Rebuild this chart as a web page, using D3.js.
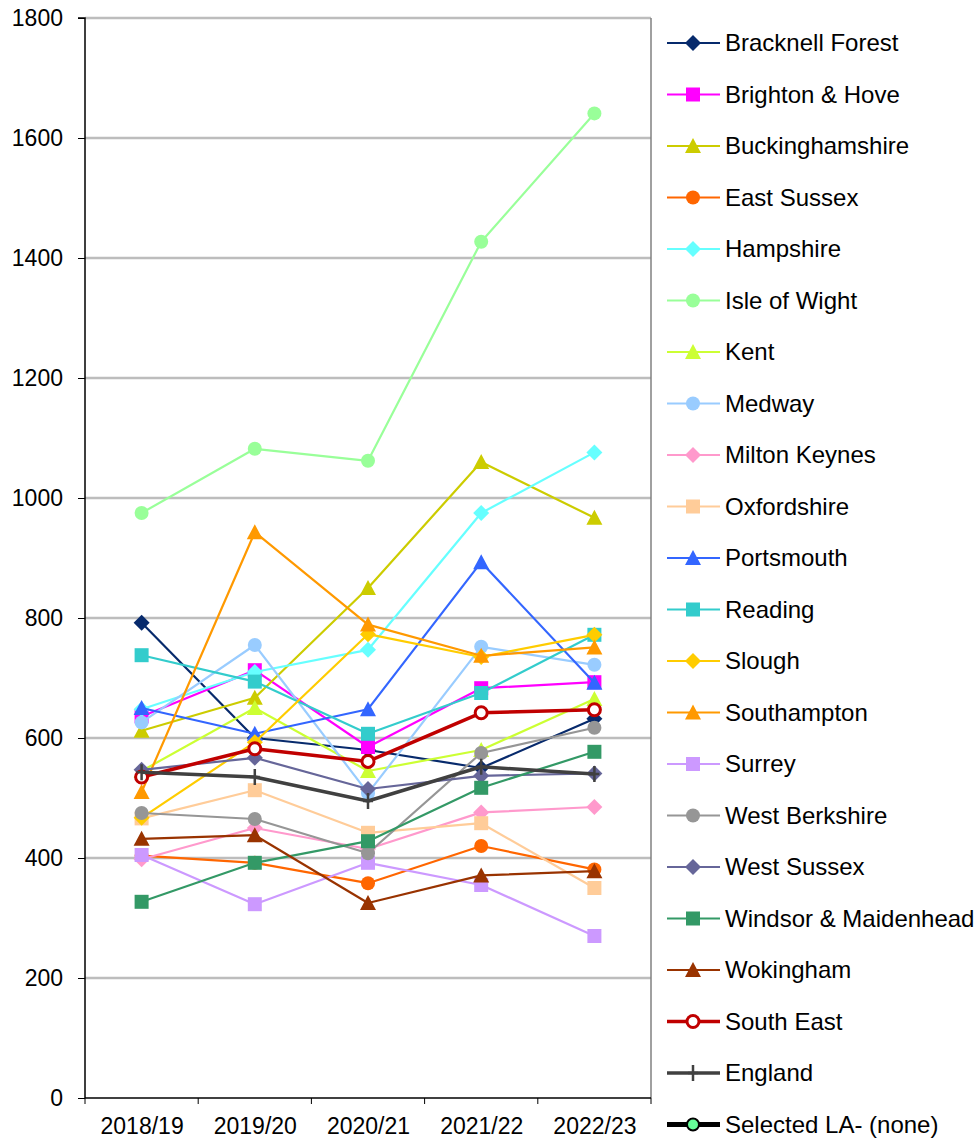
<!DOCTYPE html>
<html>
<head>
<meta charset="utf-8">
<script src="https://cdn.jsdelivr.net/npm/d3@7"></script>
<style>
  body { margin: 0; background: #fff; }
  svg { display: block; font-family: "Liberation Sans", Arial, sans-serif; }
</style>
</head>
<body>
<svg id="chart" width="975" height="1140"></svg>
<script>
// data
const years = ['2018/19', '2019/20', '2020/21', '2021/22', '2022/23']
const yTicks = [0, 200, 400, 600, 800, 1000, 1200, 1400, 1600, 1800]

const bracknellForest = [792, 600, 580, 550, 632]
const brightonHove = [636, 713, 585, 683, 693]
const buckinghamshire = [612, 667, 850, 1060, 967]
const eastSussex = [404, 392, 358, 420, 381]
const hampshire = [648, 710, 747, 975, 1076]
const isleOfWight = [975, 1082, 1062, 1427, 1641]
const kent = [545, 650, 545, 580, 665]
const medway = [626, 755, 508, 752, 722]
const miltonKeynes = [398, 450, 415, 476, 485]
const oxfordshire = [466, 513, 442, 458, 350]
const portsmouth = [650, 607, 648, 893, 692]
const reading = [738, 694, 607, 675, 772]
const slough = [467, 593, 773, 735, 772]
const southampton = [510, 943, 789, 737, 751]
const surrey = [405, 323, 392, 355, 270]
const westBerkshire = [475, 465, 408, 575, 617]
const westSussex = [547, 567, 515, 537, 541]
const windsorMaidenhead = [327, 392, 428, 517, 577]
const wokingham = [432, 438, 325, 371, 378]
const southEast = [535, 582, 561, 642, 647]
const england = [543, 535, 495, 552, 540]
const selectedLA = []

const seriesNames = [
  'Bracknell Forest', 'Brighton & Hove', 'Buckinghamshire', 'East Sussex',
  'Hampshire', 'Isle of Wight', 'Kent', 'Medway', 'Milton Keynes',
  'Oxfordshire', 'Portsmouth', 'Reading', 'Slough', 'Southampton', 'Surrey',
  'West Berkshire', 'West Sussex', 'Windsor & Maidenhead', 'Wokingham',
  'South East', 'England', 'Selected LA- (none)'
]
const seriesValues = [
  bracknellForest, brightonHove, buckinghamshire, eastSussex, hampshire,
  isleOfWight, kent, medway, miltonKeynes, oxfordshire, portsmouth, reading,
  slough, southampton, surrey, westBerkshire, westSussex, windsorMaidenhead,
  wokingham, southEast, england, selectedLA
]
const seriesColors = [
  '#072a6c', '#ff00ff', '#cccc00', '#ff6600', '#66ffff', '#99ff99', '#ccff33',
  '#99ccff', '#ff99cc', '#ffcc99', '#3366ff', '#33cccc', '#ffcc00', '#ff9900',
  '#cc99ff', '#969696', '#666699', '#339966', '#993300', '#c00000', '#404040',
  '#000000'
]
const seriesMarkers = [
  'diamond', 'square', 'triangle', 'circle', 'diamond', 'circle', 'triangle',
  'circle', 'diamond', 'square', 'triangle', 'square', 'diamond', 'triangle',
  'square', 'circle', 'diamond', 'square', 'triangle', 'hollow', 'plus', 'selected'
]

//

const svg = d3.select('#chart')
const plot = {left: 85, right: 651, top: 18, bottom: 1098}

const x = d3.scalePoint().domain(years).range([plot.left, plot.right]).padding(0.5)
const y = d3.scaleLinear().domain([0, 1800]).range([plot.bottom, plot.top])

const series = seriesNames.map((name, i) => ({
  name,
  values: seriesValues[i],
  color: seriesColors[i],
  marker: seriesMarkers[i],
  heavy: i >= 19
}))

// gridlines + frame
svg.append('g')
  .selectAll('line')
  .data(yTicks.filter(d => d > 0))
  .join('line')
  .attr('x1', plot.left).attr('x2', plot.right)
  .attr('y1', d => y(d)).attr('y2', d => y(d))
  .attr('stroke', '#bdbdbd')
  .attr('stroke-width', 2.5)

svg.append('line')
  .attr('x1', plot.right).attr('x2', plot.right)
  .attr('y1', plot.top).attr('y2', plot.bottom)
  .attr('stroke', '#808080')
  .attr('stroke-width', 1.5)

// axes
const yAxis = d3.axisLeft(y)
  .tickValues(yTicks)
  .tickFormat(d3.format('d'))
  .tickSize(7)
  .tickPadding(15)
const gy = svg.append('g')
  .attr('transform', 'translate(' + plot.left + ',0)')
  .call(yAxis)

const band = (plot.right - plot.left) / years.length
const xTickPos = d3.range(years.length + 1).map(i => plot.left + i * band)

const gx = svg.append('g')
  .attr('transform', 'translate(0,' + plot.bottom + ')')
  .call(d3.axisBottom(x).tickSize(0).tickPadding(20))
gx.append('g')
  .selectAll('line')
  .data(xTickPos)
  .join('line')
  .attr('x1', d => d).attr('x2', d => d)
  .attr('y1', 0).attr('y2', 6)
  .attr('stroke', '#000')

svg.selectAll('.domain').attr('stroke', '#000').attr('stroke-width', 1.5)
gy.select('.domain').attr('d', 'M-7,' + plot.top + 'H0V' + plot.bottom)
gx.select('.domain').attr('d', 'M' + plot.left + ',0H' + plot.right)
svg.selectAll('.tick line').attr('stroke', '#000')
svg.selectAll('.tick text')
  .attr('font-size', 23)
  .attr('fill', '#000')
  .attr('font-family', '"Liberation Sans", Arial, sans-serif')

// markers
function drawMarker (g, type, color, size) {
  const s = size || 7
  if (type === 'diamond') {
    g.append('path').attr('d', `M0,${-s - 1}L${s + 1},0L0,${s + 1}L${-s - 1},0Z`).attr('fill', color)
  } else if (type === 'square') {
    g.append('rect').attr('x', -s).attr('y', -s).attr('width', 2 * s).attr('height', 2 * s).attr('fill', color)
  } else if (type === 'triangle') {
    g.append('path').attr('d', `M0,${-s - 1}L${s + 1},${s}L${-s - 1},${s}Z`).attr('fill', color)
  } else if (type === 'circle') {
    g.append('circle').attr('r', s).attr('fill', color)
  } else if (type === 'hollow') {
    g.append('circle').attr('r', s - 1).attr('fill', '#fff').attr('stroke', color).attr('stroke-width', 3)
  } else if (type === 'plus') {
    g.append('path').attr('d', `M0,${-s - 1}V${s + 1}M${-s + 2},0H${s - 2}`).attr('stroke', color).attr('stroke-width', 2.5)
  } else if (type === 'selected') {
    g.append('circle').attr('r', s - 1).attr('fill', '#66ff99').attr('stroke', '#000').attr('stroke-width', 2)
  }
}

const line = d3.line()
  .x((d, i) => x(years[i]))
  .y(d => y(d))

const seriesG = svg.append('g')
series.forEach(s => {
  if (!s.values.length) return
  const g = seriesG.append('g')
  g.append('path')
    .datum(s.values)
    .attr('d', line)
    .attr('fill', 'none')
    .attr('stroke', s.color)
    .attr('stroke-width', s.heavy ? 3.5 : 2.2)
    .attr('stroke-linejoin', 'round')
  s.values.forEach((v, i) => {
    const m = g.append('g').attr('transform', `translate(${x(years[i])},${y(v)})`)
    drawMarker(m, s.marker, s.color)
  })
})

// legend
const legend = svg.append('g')
const rowH = 51.5
series.forEach((s, i) => {
  const row = legend.append('g').attr('transform', `translate(0,${43 + i * rowH})`)
  row.append('line')
    .attr('x1', 667).attr('x2', 720)
    .attr('stroke', s.color)
    .attr('stroke-width', s.marker === 'selected' ? 5 : (s.heavy ? 3.5 : 2.2))
  const m = row.append('g').attr('transform', 'translate(693,0)')
  drawMarker(m, s.marker, s.color, 7)
  row.append('text')
    .attr('x', 725)
    .attr('dy', '0.35em')
    .attr('font-size', 24)
    .attr('fill', '#000')
    .text(s.name)
})
</script>
</body>
</html>
